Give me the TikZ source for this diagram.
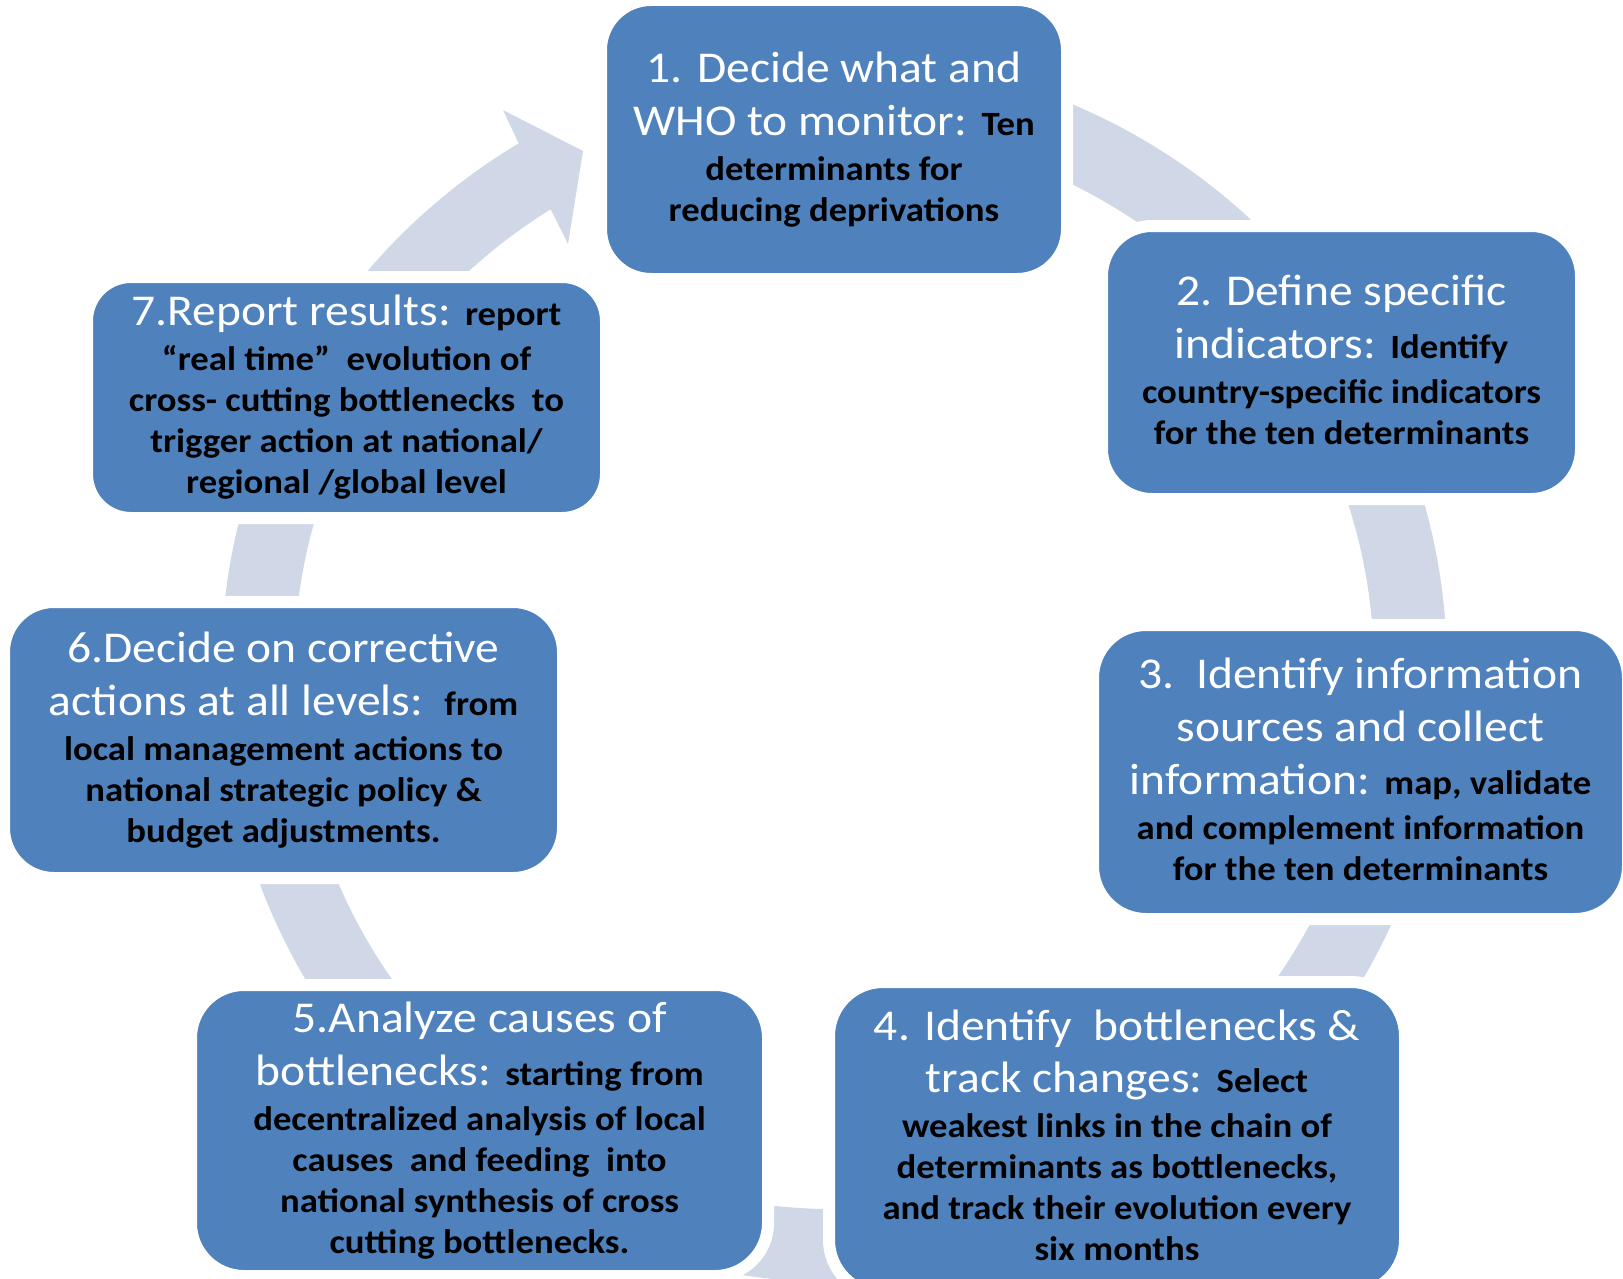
\documentclass[tikz,border=0pt]{standalone}
\usepackage{fontspec}
\setmainfont{Carlito}[FakeStretch=1.08]
\usepackage{tikz}
\usetikzlibrary{calc}

\definecolor{stageblue}{HTML}{4F81BD}
\definecolor{ringgrey}{HTML}{D0D8E8}

% heading part of a step: larger, regular weight, white
\newcommand{\ttl}[1]{{\fontsize{22}{0}\selectfont\mdseries\color{white}#1}}
% struts so heading lines and body lines keep their own spacing
\newcommand{\tst}{\rule[-8pt]{0pt}{26.35pt}}
\newcommand{\bst}{\rule[-6pt]{0pt}{20.5pt}}

\begin{document}
\begin{tikzpicture}[
  x=1pt, y=1pt,
  stage/.style = {rectangle, rounded corners=25pt, fill=stageblue, draw=white,
                  line width=6pt, inner sep=0pt, align=center, text=black,
                  font={\fontsize{17}{0}\selectfont\bfseries\lineskip=0pt\lineskiplimit=0pt}},
  ring/.style  = {fill=ringgrey},
]
\useasboundingbox (0,0) rectangle (811.5,-639.5);

% cycle ring with its arrow head, behind the steps
\coordinate (c) at (417,-334.5);
\fill[ring] ($(c)+(120.96:306.5)$) arc[start angle=120.96, end angle=427.7, radius=306.5]
  -- ($(c)+(64.5:270)$) arc[start angle=424.5, end angle=121.65, radius=270]
  -- ($(c)+(122.04:250.7)$) -- ($(c)+(115.85:287.8)$)
  -- ($(c)+(120.63:324.8)$) -- cycle;

\node[stage, minimum width=233pt, minimum height=139.5pt] (decide) at (417,-69.75)
  {\ttl{1. Decide what and}\tst\\
   \ttl{WHO to monitor: }Ten\tst\\
   determinants for\bst\\
   reducing deprivations\bst};

\node[stage, minimum width=239.5pt, minimum height=136.5pt] (define) at (670.75,-181.25)
  {\ttl{2. Define specific}\tst\\
   \ttl{indicators: }Identify\tst\\
   country-specific indicators\bst\\
   for the ten determinants\bst};

\node[stage, rounded corners=26.5pt, minimum width=267.5pt, minimum height=147pt] (collect) at (680.25,-386)
  {\ttl{3.\ \ Identify information}\tst\\
   \ttl{sources and collect}\tst\\
   \ttl{information: }map, validate\tst\\
   and complement information\bst\\
   for the ten determinants\bst};

\node[stage, rounded corners=27pt, minimum width=288pt, minimum height=156pt] (track) at (558.5,-569)
  {\ttl{4. Identify\ \ bottlenecks \&}\tst\\
   \ttl{track changes: }Select\tst\\
   weakest links in the chain of\bst\\
   determinants as bottlenecks,\bst\\
   and track their evolution every\bst\\
   six months\bst};

\node[stage, rounded corners=26.5pt, minimum width=288.5pt, minimum height=145.5pt] (analyze) at (239.75,-565.25)
  {\ttl{5.Analyze causes of}\tst\\
   \ttl{bottlenecks: }starting from\tst\\
   decentralized analysis of local\bst\\
   causes\ \ and feeding\ \ into\bst\\
   national synthesis of cross\bst\\
   cutting bottlenecks.\bst};

\node[stage, minimum width=279.5pt, minimum height=138pt] (correct) at (141.75,-370)
  {\ttl{6.Decide on corrective}\tst\\
   \ttl{actions at all levels:\ \ }from\tst\\
   local management actions to\bst\\
   national strategic policy \&\bst\\
   budget adjustments.\bst};

\node[stage, rounded corners=22pt, minimum width=259.5pt, minimum height=120.5pt] (report) at (173.25,-198.75)
  {\ttl{7.Report results: }report\tst\\
   “real time”\ \ evolution of\bst\\
   cross- cutting bottlenecks\ \ to\bst\\
   trigger action at national/\bst\\
   regional /global level\bst};
\end{tikzpicture}
\end{document}
